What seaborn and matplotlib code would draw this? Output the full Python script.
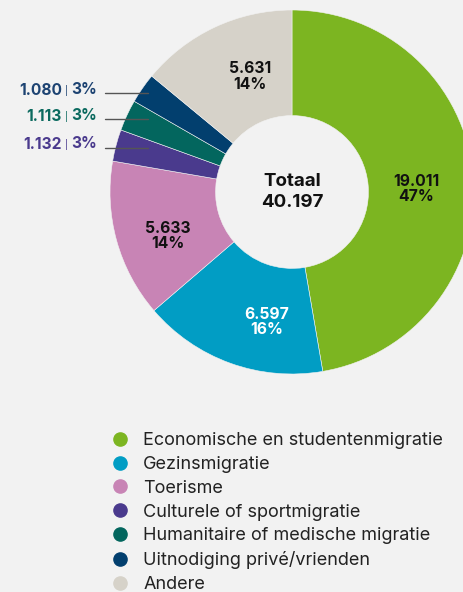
import matplotlib
matplotlib.use("Agg")
import matplotlib.pyplot as plt
import seaborn as sns
import numpy as np
from matplotlib.lines import Line2D

# ---- data ----
categories = [
    "Economische en studentenmigratie",
    "Gezinsmigratie",
    "Toerisme",
    "Culturele of sportmigratie",
    "Humanitaire of medische migratie",
    "Uitnodiging privé/vrienden",
    "Andere",
]
values = [19011, 6597, 5633, 1132, 1113, 1080, 5631]
value_labels = ["19.011", "6.597", "5.633", "1.132", "1.113", "1.080", "5.631"]
percent_labels = ["47%", "16%", "14%", "3%", "3%", "3%", "14%"]
total_title = "Totaal"
total_value = "40.197"

colors = ["#7cb521", "#019dc4", "#c884b5", "#4a3a8d", "#03665e", "#023f6e", "#d6d2c9"]
side_label_colors = {3: "#4a3a8d", 4: "#0b6a5f", 5: "#1d4372"}
# small layout nudges (pixels, x right / y down) for the inner labels
label_nudge_px = {0: (-3, 8), 1: (18, 10), 2: (-1, 10), 6: (12, 0)}

# ---- style ----
sns.set_theme(style="white")
palette = sns.color_palette(colors)
plt.rcParams["font.family"] = ["Inter", "DejaVu Sans"]

bg = "#f2f2f2"
W, H = 464, 592
fig = plt.figure(figsize=(W / 100, H / 100), dpi=100, facecolor=bg)

cx, cy, R = 292, 192, 182
ax = fig.add_axes([(cx - R) / W, (H - cy - R) / H, 2 * R / W, 2 * R / H])
ax.set_facecolor("none")

wedges, _ = ax.pie(
    values,
    colors=palette,
    startangle=90,
    counterclock=False,
    radius=1,
    wedgeprops=dict(width=0.58, edgecolor=bg, linewidth=0.4),
)
ax.set_xlim(-1, 1)
ax.set_ylim(-1, 1)
ax.set_aspect("equal")
ax.axis("off")

total = sum(values)
for i, w in enumerate(wedges):
    mid = np.deg2rad((w.theta1 + w.theta2) / 2)
    share = values[i] / total
    if share > 0.05:
        r = 0.70
        dx, dy = label_nudge_px.get(i, (0, 0))
        ax.text(
            r * np.cos(mid) + dx / R, r * np.sin(mid) - dy / R,
            f"{value_labels[i]}\n{percent_labels[i]}",
            ha="center", va="center", fontsize=11.3, fontweight="bold",
            color="white" if i == 1 else "#111111", linespacing=1.05,
        )
    else:
        y = 0.95 * np.sin(mid)
        ax.plot([-1.027, -0.791], [y, y], color="#555555", lw=1, clip_on=False)
        col = side_label_colors[i]
        t_pct = ax.text(-1.072, y + 0.022, percent_labels[i], ha="right", va="center",
                        fontsize=11.2, fontweight="bold", color=col)
        t_bar = ax.annotate("|", xy=(0, 0.42), xycoords=t_pct, xytext=(-2.2, 0),
                            textcoords="offset points", ha="right", va="center",
                            fontsize=6.5, color=col)
        ax.annotate(value_labels[i], xy=(0, 0.5), xycoords=t_bar, xytext=(-2.2, 0),
                    textcoords="offset points", ha="right", va="center",
                    fontsize=11.2, fontweight="bold", color=col)

ax.text(0, 0, f"{total_title}\n{total_value}", ha="center", va="center",
        fontsize=13.5, fontweight="bold", color="#111111", linespacing=1.3)

handles = [
    Line2D([], [], marker="o", linestyle="", markersize=9.5,
           markerfacecolor=c, markeredgecolor=c)
    for c in palette
]
leg = fig.legend(
    handles, categories, loc="upper left",
    bbox_to_anchor=(111 / W, 1 - 432 / H),
    frameon=False, fontsize=13, handlelength=1.0, handletextpad=0.78,
    labelspacing=0.38, borderpad=0, borderaxespad=0,
)
for t in leg.get_texts():
    t.set_color("#222222")

fig.savefig("out.png", dpi=100, facecolor=bg)
